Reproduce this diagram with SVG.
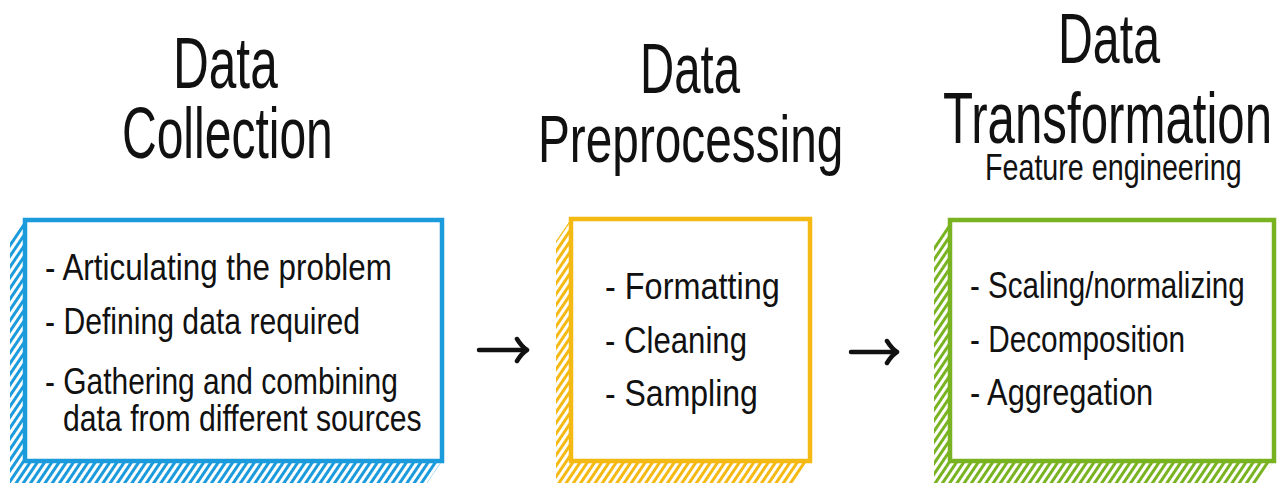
<svg xmlns="http://www.w3.org/2000/svg" width="1281" height="485" viewBox="0 0 1281 485">
  <defs>
    <pattern id="hatchBlue" patternUnits="userSpaceOnUse" width="6" height="6" patternTransform="rotate(34)">
      <rect x="0" y="0" width="3" height="6" fill="#1b9bdb"/>
    </pattern>
    <pattern id="hatchYellow" patternUnits="userSpaceOnUse" width="6" height="6" patternTransform="rotate(34)">
      <rect x="0" y="0" width="3" height="6" fill="#f5b914"/>
    </pattern>
    <pattern id="hatchGreen" patternUnits="userSpaceOnUse" width="6" height="6" patternTransform="rotate(34)">
      <rect x="0" y="0" width="3" height="6" fill="#79b321"/>
    </pattern>
    <marker id="chev" viewBox="-12 -14 16 28" markerWidth="16" markerHeight="28" refX="0" refY="0" orient="auto" markerUnits="userSpaceOnUse">
      <path d="M -9 -11 Q -4 -3 1 0 Q -4 3 -9 11" fill="none" stroke="#111" stroke-width="4.5" stroke-linecap="round" stroke-linejoin="round"/>
    </marker>
  </defs>
  <style>
    .title { font-family: "Liberation Sans", Arial, sans-serif; fill: #111; }
    .item { font-family: "Liberation Sans", Arial, sans-serif; font-size: 37px; fill: #111; }
    .box { fill: #fff; stroke-width: 4.5; }
    .conn { fill: none; stroke: #111; stroke-width: 4.5; stroke-linecap: round; }
  </style>
  <rect width="1281" height="485" fill="#fff"/>

  <!-- Titles -->
  <g id="title-collection" class="title">
    <text transform="translate(173 88) scale(0.68 1)" font-size="72" textLength="154" lengthAdjust="spacingAndGlyphs">Data</text>
    <text transform="translate(122 158) scale(0.68 1)" font-size="72" textLength="310" lengthAdjust="spacingAndGlyphs">Collection</text>
  </g>
  <g id="title-preprocessing" class="title">
    <text transform="translate(640 93) scale(0.68 1)" font-size="70" textLength="147" lengthAdjust="spacingAndGlyphs">Data</text>
    <text transform="translate(538 162) scale(0.68 1)" font-size="67" textLength="449" lengthAdjust="spacingAndGlyphs">Preprocessing</text>
  </g>
  <g id="title-transformation" class="title">
    <text transform="translate(1058 63) scale(0.68 1)" font-size="70" textLength="150" lengthAdjust="spacingAndGlyphs">Data</text>
    <text transform="translate(943 143) scale(0.68 1)" font-size="72" textLength="484" lengthAdjust="spacingAndGlyphs">Transformation</text>
    <text transform="translate(985 180) scale(0.78 1)" font-size="37" textLength="329" lengthAdjust="spacingAndGlyphs">Feature engineering</text>
  </g>

  <!-- Box 1: Data Collection -->
  <g id="box-collection">
    <path d="M 25 220 L 10 242 L 10 483 L 427 483 L 442 461 Z" fill="url(#hatchBlue)"/>
    <rect class="box" x="25" y="220" width="417" height="241" stroke="#1b9bdb"/>
    <text class="item" transform="translate(45 280) scale(0.84 1)" textLength="413" lengthAdjust="spacingAndGlyphs">- Articulating the problem</text>
    <text class="item" transform="translate(45 334) scale(0.84 1)" textLength="375" lengthAdjust="spacingAndGlyphs">- Defining data required</text>
    <text class="item" transform="translate(45 394) scale(0.84 1)" textLength="420" lengthAdjust="spacingAndGlyphs">- Gathering and combining</text>
    <text class="item" transform="translate(63 431) scale(0.84 1)" textLength="427" lengthAdjust="spacingAndGlyphs">data from different sources</text>
  </g>

  <!-- Box 2: Data Preprocessing -->
  <g id="box-preprocessing">
    <path d="M 571 219 L 556 241 L 556 483 L 795 483 L 810 461 Z" fill="url(#hatchYellow)"/>
    <rect class="box" x="571" y="219" width="239" height="242" stroke="#f5b914"/>
    <text class="item" transform="translate(605 299) scale(0.84 1)" textLength="208" lengthAdjust="spacingAndGlyphs">- Formatting</text>
    <text class="item" transform="translate(605 353) scale(0.84 1)" textLength="169" lengthAdjust="spacingAndGlyphs">- Cleaning</text>
    <text class="item" transform="translate(605 406) scale(0.84 1)" textLength="182" lengthAdjust="spacingAndGlyphs">- Sampling</text>
  </g>

  <!-- Box 3: Data Transformation -->
  <g id="box-transformation">
    <path d="M 950 220 L 934 242 L 934 483 L 1258 483 L 1274 461 Z" fill="url(#hatchGreen)"/>
    <rect class="box" x="950" y="220" width="324" height="241" stroke="#79b321"/>
    <text class="item" transform="translate(970 298) scale(0.84 1)" textLength="327" lengthAdjust="spacingAndGlyphs">- Scaling/normalizing</text>
    <text class="item" transform="translate(970 352) scale(0.84 1)" textLength="256" lengthAdjust="spacingAndGlyphs">- Decomposition</text>
    <text class="item" transform="translate(970 405) scale(0.84 1)" textLength="218" lengthAdjust="spacingAndGlyphs">- Aggregation</text>
  </g>

  <!-- Connectors -->
  <g id="connectors">
    <path class="conn" d="M 479 350 L 526 350" marker-end="url(#chev)"/>
    <path class="conn" d="M 851 352 L 896 352" marker-end="url(#chev)"/>
  </g>
</svg>
